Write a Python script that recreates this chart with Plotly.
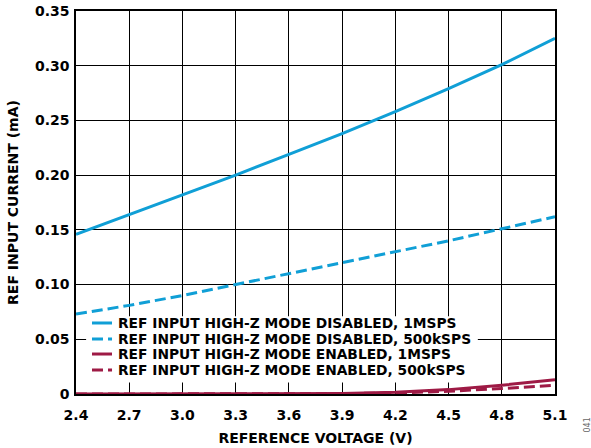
import plotly.graph_objects as go

# Data
voltage = [2.4, 2.7, 3.0, 3.3, 3.6, 3.9, 4.2, 4.5, 4.8, 5.1]
dis_1msps = [0.146, 0.164, 0.182, 0.200, 0.219, 0.238, 0.258, 0.279, 0.301, 0.325]
dis_500k = [0.073, 0.081, 0.090, 0.100, 0.110, 0.120, 0.130, 0.140, 0.151, 0.162]
en_1msps = [0.0, 0.0, 0.0, 0.0, 0.0, 0.0005, 0.0015, 0.004, 0.008, 0.013]
en_500k = [0.0, 0.0, 0.0, 0.0, 0.0, 0.0003, 0.001, 0.0025, 0.005, 0.008]

names = ['REF INPUT HIGH-Z MODE DISABLED, 1MSPS',
         'REF INPUT HIGH-Z MODE DISABLED, 500kSPS',
         'REF INPUT HIGH-Z MODE ENABLED, 1MSPS',
         'REF INPUT HIGH-Z MODE ENABLED, 500kSPS']

y_ticks = [0, 0.05, 0.10, 0.15, 0.20, 0.25, 0.30, 0.35]
y_labels = ['0', '0.05', '0.10', '0.15', '0.20', '0.25', '0.30', '0.35']
x_ticks = [2.4, 2.7, 3.0, 3.3, 3.6, 3.9, 4.2, 4.5, 4.8, 5.1]
x_labels = ['2.4', '2.7', '3.0', '3.3', '3.6', '3.9', '4.2', '4.5', '4.8', '5.1']

blue = '#109fd6'
red = '#9e1a45'
dashed = '11px,5px'
fam = 'DejaVu Sans'

fig = go.Figure()
series = list(zip(names, [dis_1msps, dis_500k, en_1msps, en_500k],
                  [blue, blue, red, red], ['solid', dashed, 'solid', dashed]))
for name, ys, col, dash in series:
    fig.add_trace(go.Scatter(x=voltage, y=ys, name=name, mode='lines',
                             line=dict(color=col, width=3, dash=dash),
                             cliponaxis=False, showlegend=False))

# legend drawn by hand so the row spacing matches; white box hides the grid
fig.add_shape(type='rect', xref='x', yref='y', x0=2.457, x1=4.665,
              y0=0.0105, y1=0.071, fillcolor='white', line_width=0, layer='between')
row_y = [0.1854, 0.1436, 0.1044, 0.0627]
for (name, ys, col, dash), ry in zip(series, row_y):
    fig.add_shape(type='line', xref='paper', yref='paper', x0=0.0334, x1=0.0752,
                  y0=ry, y1=ry, line=dict(color=col, width=3, dash=dash))
    fig.add_annotation(text=name, xref='paper', yref='paper', x=0.0835, y=ry,
                       xanchor='left', yanchor='middle', showarrow=False,
                       font=dict(family=fam, size=13.8, color='black', weight='bold'))

fig.update_layout(
    width=591, height=448,
    margin=dict(l=76, r=36, t=11, b=54),
    plot_bgcolor='white', paper_bgcolor='white',
    font=dict(family=fam, size=14, color='black', weight='bold'),
    showlegend=False,
    xaxis=dict(range=[2.4, 5.1], tickvals=x_ticks, ticktext=x_labels,
               showgrid=True, gridcolor='black', gridwidth=1,
               showline=True, linecolor='black', linewidth=1.5, mirror=True,
               zeroline=False, ticks='', automargin=False, ticklabelstandoff=7,
               title=dict(text='REFERENCE VOLTAGE (V)', standoff=12,
                          font=dict(family=fam, size=14, weight='bold'))),
    yaxis=dict(range=[0, 0.35], tickvals=y_ticks, ticktext=y_labels,
               showgrid=True, gridcolor='black', gridwidth=1,
               showline=True, linecolor='black', linewidth=1.5, mirror=True,
               zeroline=False, ticks='', automargin=False, ticklabelstandoff=2,
               title=dict(text='REF INPUT CURRENT (mA)', standoff=13,
                          font=dict(family=fam, size=14, weight='bold'))),
)

fig.add_annotation(text='041', xref='paper', yref='paper', x=1, y=0,
                   xanchor='left', yanchor='middle', xshift=25, yshift=-31,
                   showarrow=False, textangle=-90,
                   font=dict(family=fam, size=8, color='#666666', weight='normal'))

fig.write_html('out.html', config={'displayModeBar': False},
               post_script="document.body.style.margin='0';")
